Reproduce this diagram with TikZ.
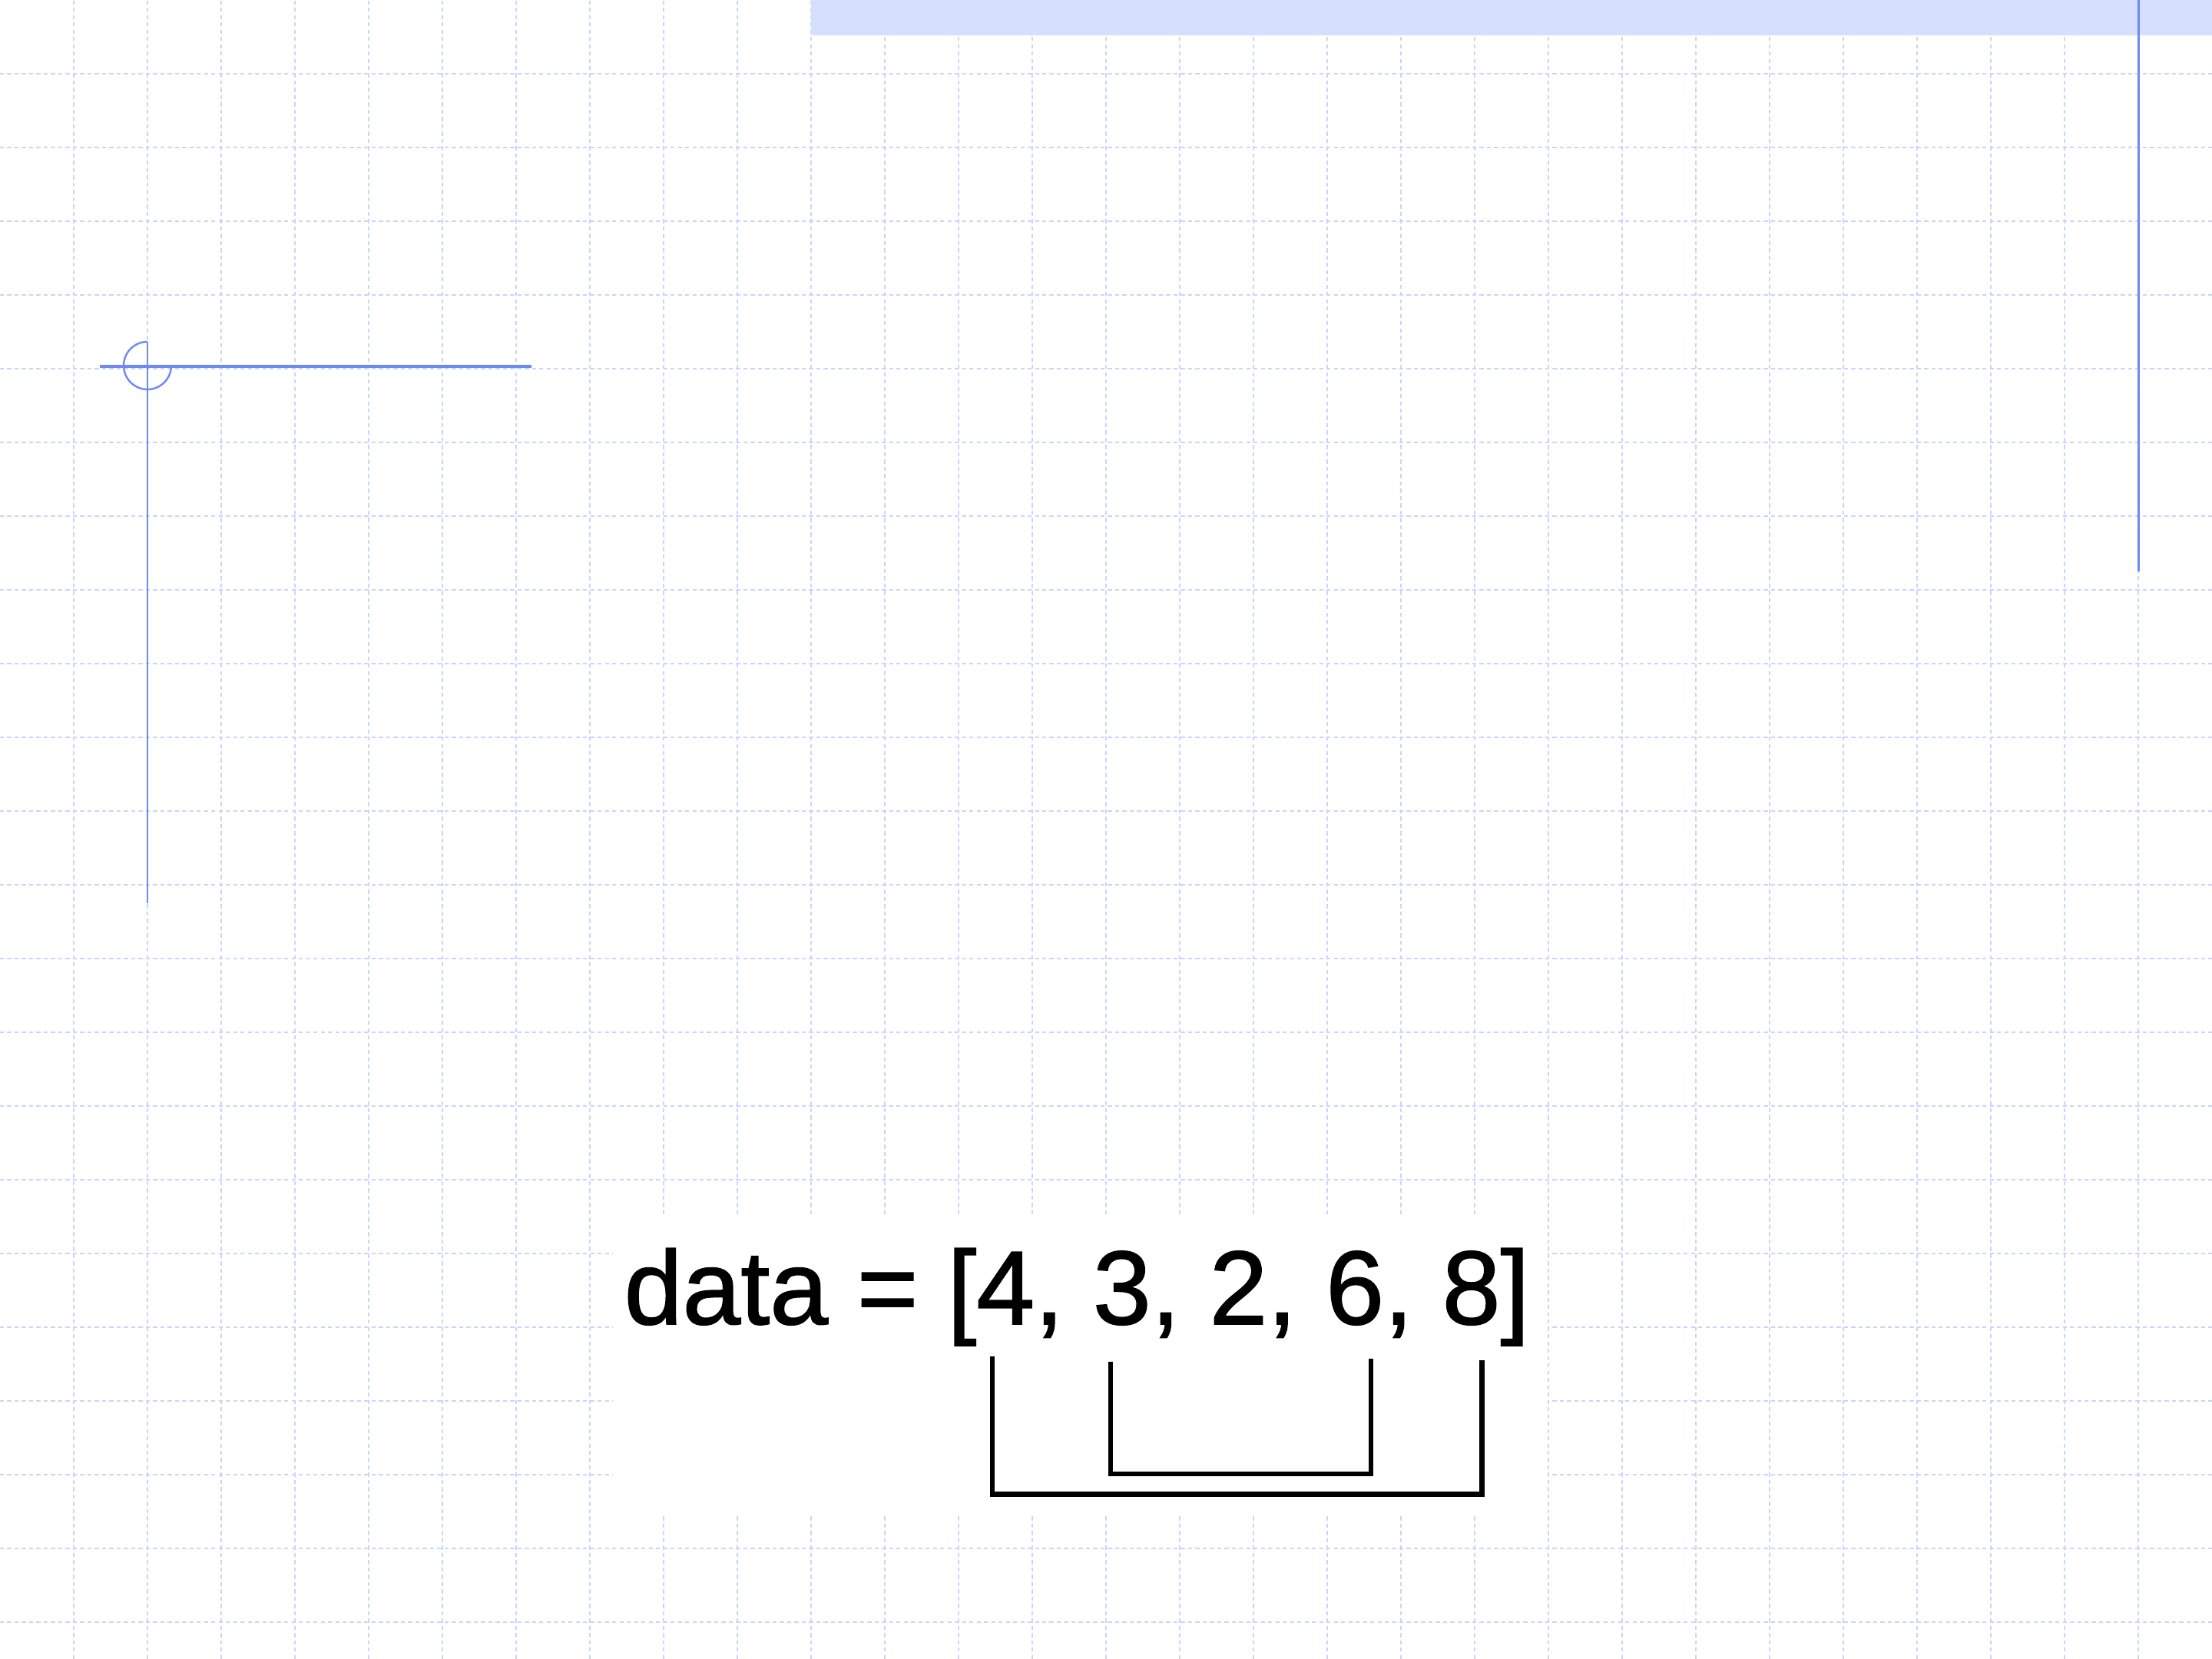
\documentclass[tikz,border=0pt]{standalone}
\usepackage{fontspec}
\setmainfont{Liberation Sans}
\newfontfamily\datafont[FakeBold=1.2]{Liberation Sans}
\definecolor{gridblue}{HTML}{C9D5FA}
\definecolor{bandblue}{HTML}{D6DFFD}
\definecolor{lineblue}{HTML}{7088F2}
\begin{document}
\begin{tikzpicture}[
  gridline/.style={draw=gridblue, line width=0.45pt, dash pattern=on 1.5pt off 1.2pt},
  blueline/.style={draw=lineblue, line width=0.024cm},
  bracketline/.style={draw=black, line width=0.065cm, line cap=rect}
]
\useasboundingbox (0,0) rectangle (28.8,21.6);
\fill[white] (0,0) rectangle (28.8,21.6);
% grid
\foreach \k in {1,...,29} {
  \draw[gridline] ({0.96*\k},0) -- ({0.96*\k},21.6);
}
\foreach \k in {1,...,22} {
  \draw[gridline] (0,{21.6-0.96*\k}) -- (28.8,{21.6-0.96*\k});
}
% top band
\fill[bandblue] (10.56,21.14) rectangle (28.8,21.6);
% right vertical line
\coordinate (rtop) at (27.84,21.6);
\coordinate (rbot) at (27.84,14.16);
\draw[blueline, line width=0.03cm] (rtop) -- (rbot);
% left cross with arc
\coordinate (hl) at (1.30,16.83);
\coordinate (hr) at (6.92,16.83);
\coordinate (vt) at (1.92,17.15);
\coordinate (vb) at (1.92,9.84);
\draw[blueline, line width=0.033cm] (hl) -- (hr);
\draw[blueline] (vt) -- (vb);
\draw[blueline] (vt) arc[start angle=90, end angle=360, radius=0.31];
% white area behind text
\fill[white] (7.98,1.86) rectangle (20.15,5.75);
% text
\node[anchor=base west, inner sep=0pt, font=\datafont\fontsize{38.8}{47}\selectfont] (data) at (8.12,4.36) {data = [4, 3, 2, 6, 8]};
% brackets
\coordinate (o1) at (12.92,3.91);
\coordinate (o2) at (19.295,3.86);
\coordinate (i1) at (14.46,3.84);
\coordinate (i2) at (17.85,3.88);
\draw[bracketline] (o1) |- (19.295,2.145) -- (o2);
\draw[bracketline] (i1) |- (17.85,2.41) -- (i2);
\end{tikzpicture}
\end{document}
